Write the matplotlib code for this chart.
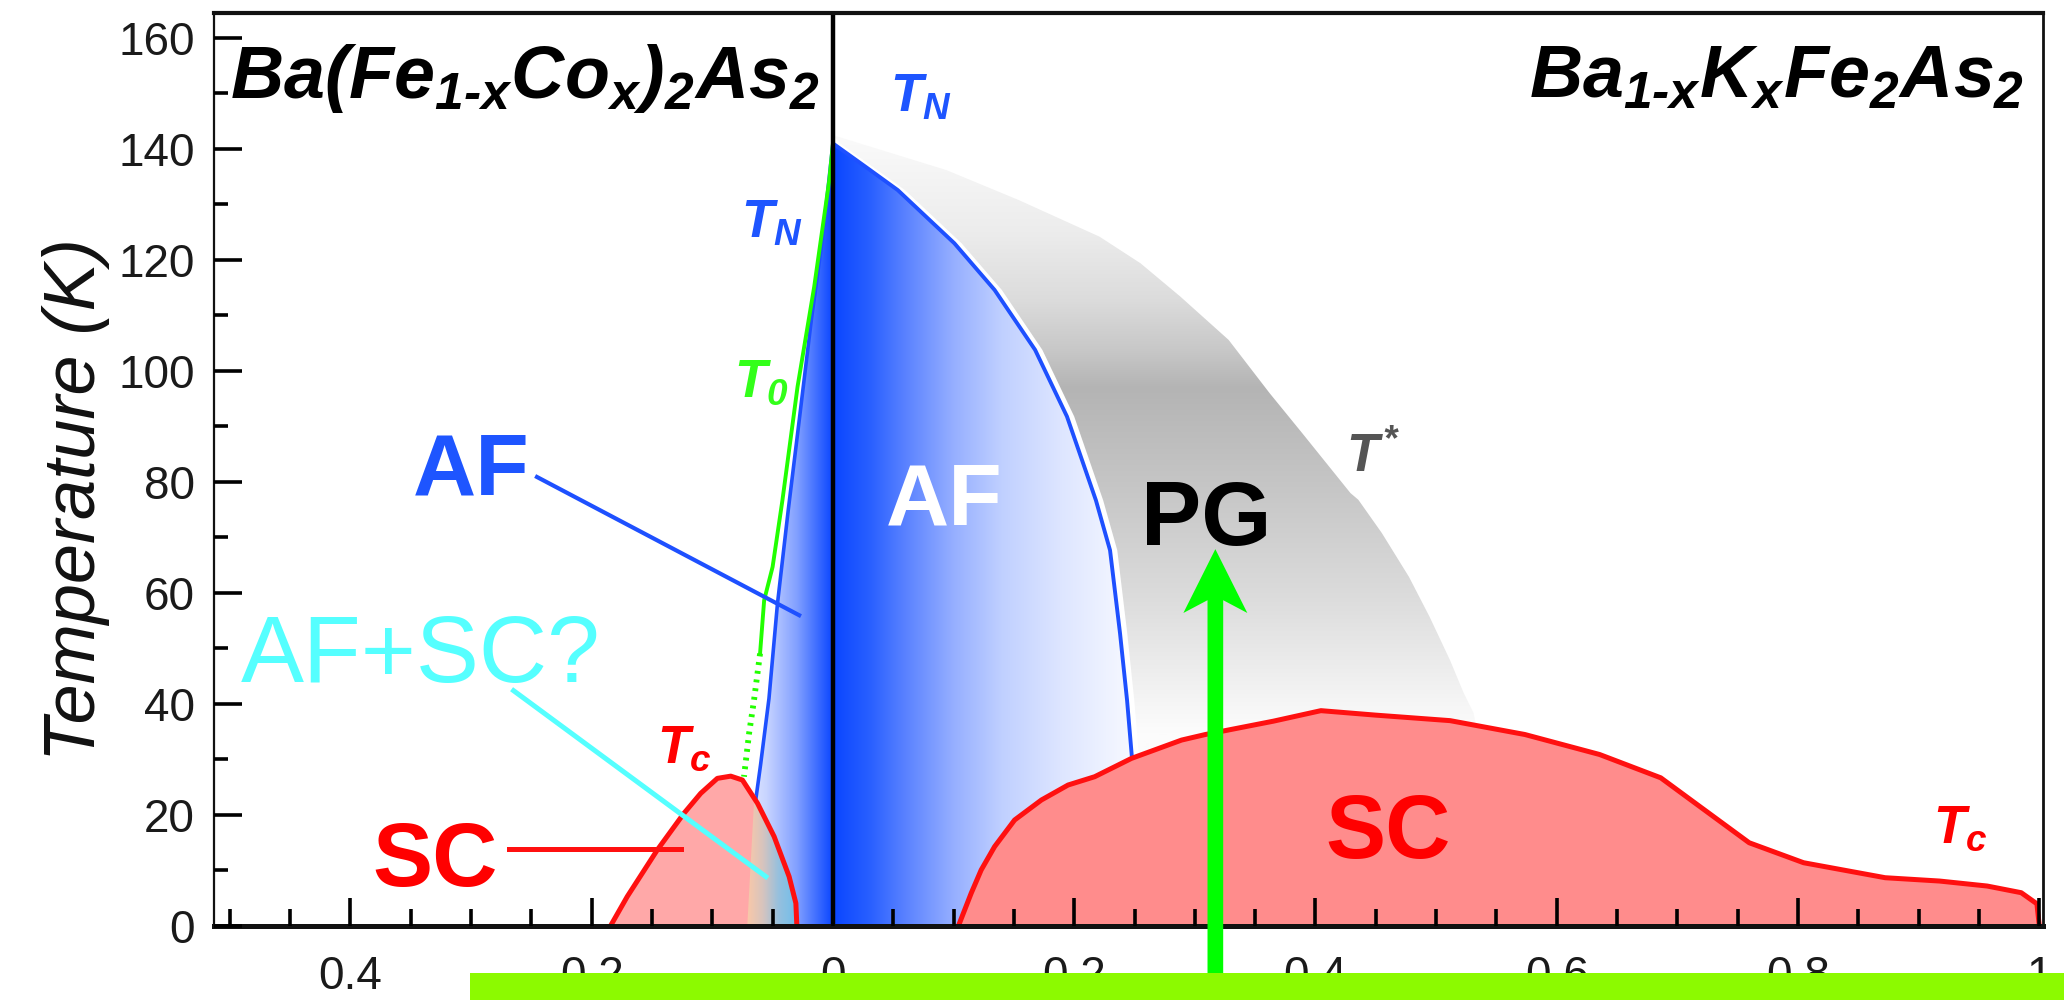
import numpy as np
import matplotlib
matplotlib.use("Agg")
import matplotlib.pyplot as plt
from matplotlib.patches import Polygon, FancyArrow, Rectangle
from matplotlib.ticker import FixedLocator, FuncFormatter

plt.rcParams['font.family'] = ['Liberation Sans', 'DejaVu Sans']
plt.rcParams['mathtext.fontset'] = 'custom'
plt.rcParams['mathtext.it'] = 'Liberation Sans:italic:bold'
plt.rcParams['mathtext.rm'] = 'Liberation Sans:italic:bold'
plt.rcParams['mathtext.bf'] = 'Liberation Sans:bold'

# Ba(Fe1-xCox)2As2 side is plotted at negative x (doping shown as |x|)
tn_co_x = [0.0, -0.008, -0.018, -0.028, -0.037, -0.046, -0.053, -0.060, -0.064, -0.068, -0.071]
tn_co_t = [141, 125, 109, 91, 75, 58, 41, 29, 22.7, 12, 0]

t0_co_x = [0.0, -0.003, -0.0155, -0.0293, -0.0418, -0.050, -0.057, -0.0604]
t0_co_t = [141, 134.4, 115.2, 97.2, 76.8, 64.7, 58.7, 49.1]
t0_dot_x = [-0.0604, -0.0654, -0.0695, -0.0737]
t0_dot_t = [49.1, 40.7, 34.7, 26.9]

sc_co_x = [-0.1844, -0.1705, -0.1456, -0.1235, -0.1096, -0.0958, -0.0847, -0.075,
           -0.0625, -0.0487, -0.0363, -0.0307, -0.0299]
sc_co_t = [0.0, 5.3, 13.7, 20.3, 23.9, 26.6, 27.0, 26.3, 22.1, 16.1, 8.9, 4.1, 0.0]

# Ba1-xKxFe2As2 side
tn_k_x = [0.0, 0.027, 0.0537, 0.1007, 0.134, 0.1676, 0.194, 0.218, 0.2297, 0.238,
          0.2438, 0.2478, 0.252, 0.255]
tn_k_t = [141, 136.8, 132.6, 123.0, 114.6, 103.8, 91.8, 76.7, 67.7, 52.7, 40.7, 30.5, 15, 0]

tstar_x = [0.0, 0.094, 0.154, 0.221, 0.255, 0.288, 0.328, 0.362, 0.389, 0.429, 0.4355,
           0.455, 0.4775, 0.4946, 0.5115, 0.5228, 0.531, 0.535]
tstar_t = [142.5, 136.2, 130.8, 124.2, 119.4, 113.4, 105.6, 96.0, 88.8, 78.0, 76.8,
           70.8, 62.9, 55.7, 47.9, 42.0, 38.4, 34.0]

sc_k_x = [0.104, 0.1146, 0.1229, 0.134, 0.1506, 0.1728, 0.1949, 0.217, 0.2475, 0.289,
          0.3087, 0.365, 0.4045, 0.4495, 0.5116, 0.5736, 0.6355, 0.6862, 0.72, 0.7595,
          0.8046, 0.8722, 0.9173, 0.9568, 0.985, 0.998, 1.0]
sc_k_t = [0.0, 5.9, 10.1, 14.3, 19.1, 22.7, 25.4, 26.9, 30.2, 33.5, 34.5, 36.9, 38.8,
          38.0, 37.0, 34.5, 30.9, 26.7, 21.3, 15.0, 11.4, 8.7, 8.1, 7.2, 6.0, 4.0, 0.0]

x_major = [-0.4, -0.2, 0.0, 0.2, 0.4, 0.6, 0.8, 1.0]
x_labels = ['0.4', '0.2', '0', '0.2', '0.4', '0.6', '0.8', '1']
y_major = [0, 20, 40, 60, 80, 100, 120, 140, 160]

BLUE = '#1E50FF'
RED = '#FF1010'


def gradient_fill(ax, verts, extent, stops, horizontal=True, zorder=1.0):
    """Fill a polygon with a linear colour gradient (stops in data units)."""
    poly = Polygon(verts, closed=True, facecolor='none', edgecolor='none')
    ax.add_patch(poly)
    pos = np.array([s[0] for s in stops])
    cols = np.array([s[1] for s in stops], dtype=float) / 255.0
    if horizontal:
        grid = np.linspace(extent[0], extent[1], 400)
        img = np.stack([np.interp(grid, pos, cols[:, i]) for i in range(3)], axis=-1)[None, :, :]
    else:
        grid = np.linspace(extent[3], extent[2], 400)
        img = np.stack([np.interp(grid, pos, cols[:, i]) for i in range(3)], axis=-1)[:, None, :]
    im = ax.imshow(img, extent=extent, aspect='auto', origin='upper',
                   interpolation='bilinear', zorder=zorder)
    im.set_clip_path(poly)
    return im


fig = plt.figure(figsize=(20.64, 10), dpi=100)
ax = fig.add_axes([0.1037, 0.074, 0.8861, 0.913])

# pseudogap band between T_N and T*
gray_verts = list(zip(tstar_x, tstar_t)) + [(0.53, 25), (0.26, 25)]
gray_verts += [(x + 0.006, t) for x, t in zip(tn_k_x[::-1], tn_k_t[::-1]) if t >= 25]
gray_stops = [(35, (252, 252, 252)), (41, (244, 244, 244)), (50, (232, 232, 232)),
              (59, (220, 220, 220)), (68, (210, 210, 210)), (77, (200, 200, 200)),
              (89, (188, 188, 188)), (97, (180, 180, 180)), (104, (200, 200, 200)),
              (113, (220, 220, 220)), (125, (236, 236, 236)), (142, (250, 250, 250))]
gradient_fill(ax, gray_verts, [0, 0.55, 20, 145], gray_stops, horizontal=False, zorder=1.0)

# AF regions
af_k_verts = [(0, 0)] + list(zip(tn_k_x, tn_k_t))
af_k_stops = [(0.0, (10, 70, 255)), (0.03, (40, 95, 255)), (0.06, (90, 130, 255)),
              (0.10, (150, 175, 255)), (0.14, (192, 208, 255)), (0.19, (222, 230, 255)),
              (0.245, (246, 248, 255))]
gradient_fill(ax, af_k_verts, [0, 0.26, 0, 142], af_k_stops, zorder=1.2)

af_co_verts = [(0, 0)] + list(zip(tn_co_x, tn_co_t))
af_co_stops = [(-0.072, (228, 234, 255)), (-0.055, (200, 212, 255)),
               (-0.03, (130, 160, 255)), (-0.01, (50, 100, 255)), (0.0, (10, 70, 255))]
gradient_fill(ax, af_co_verts, [-0.072, 0, 0, 142], af_co_stops, zorder=1.2)

ax.plot(tn_k_x[:-2], tn_k_t[:-2], color=BLUE, lw=2.8, zorder=1.4, solid_capstyle='butt')
ax.plot(tn_co_x, tn_co_t, color=BLUE, lw=2.6, zorder=1.4)
ax.plot(t0_co_x, t0_co_t, color='#22FF00', lw=2.8, zorder=1.4)
ax.plot(t0_dot_x, t0_dot_t, color='#22FF00', lw=4.2, ls=(0, (0.5, 1.0)), zorder=1.4)

# superconducting domes
ax.fill(sc_k_x, sc_k_t, color='#FF8C8C', zorder=1.5, lw=0)
ax.fill(sc_co_x, sc_co_t, color='#FFA8A8', zorder=1.5, lw=0)

# AF+SC coexistence inside the Co dome
ov_verts = [(x, t) for x, t in zip(sc_co_x, sc_co_t) if x > -0.075] + [(-0.071, 0), (-0.068, 12), (-0.065, 24)]
ov_stops = [(-0.071, (250, 200, 168)), (-0.058, (215, 196, 190)),
            (-0.045, (150, 192, 222)), (-0.03, (112, 190, 235))]
gradient_fill(ax, ov_verts, [-0.072, -0.029, 0, 28], ov_stops, zorder=1.6)

ax.plot(sc_k_x, sc_k_t, color=RED, lw=3.6, zorder=1.8)
ax.plot(sc_co_x, sc_co_t, color=RED, lw=3.6, zorder=1.8)

ax.axvline(0, color='black', lw=3.2, zorder=2.0)

# pointer lines
ax.plot([-0.2453, -0.028], [80.9, 56.0], color=BLUE, lw=3.0, zorder=3)
ax.plot([-0.2647, -0.0556], [42.4, 8.9], color='#55FFFF', lw=3.6, zorder=3)
ax.plot([-0.2686, -0.126], [13.8, 13.8], color=RED, lw=3.6, zorder=3)

# region labels
ax.text(-0.2998, 77.7, 'AF', color='#1E55FF', fontsize=63, fontweight='bold',
        ha='center', va='baseline', zorder=4)
ax.text(-0.342, 44.0, 'AF+SC?', color='#55FFFF', fontsize=68,
        ha='center', va='baseline', zorder=4)
ax.text(-0.330, 7.2, 'SC', color='#FF0000', fontsize=65, fontweight='bold',
        ha='center', va='baseline', zorder=4)
ax.text(0.4605, 12.3, 'SC', color='#FF0000', fontsize=65, fontweight='bold',
        ha='center', va='baseline', zorder=4)
ax.text(0.3098, 68.6, 'PG', color='black', fontsize=65, fontweight='bold',
        ha='center', va='baseline', zorder=4)
ax.text(0.0922, 72.3, 'AF', color='white', fontsize=63, fontweight='bold',
        ha='center', va='baseline', zorder=4)

# transition temperature labels
ax.text(-0.0764, 124, r'$T_N$', color='#1E55FF', fontsize=38, ha='left', va='baseline', zorder=4)
ax.text(-0.0822, 95.3, r'$T_0$', color='#33FF1A', fontsize=38, ha='left', va='baseline', zorder=4)
ax.text(0.047, 146.7, r'$T_N$', color='#1E55FF', fontsize=38, ha='left', va='baseline', zorder=4)
ax.text(0.4252, 81.8, r'$T^{\!*}$', color='#555555', fontsize=38, ha='left', va='baseline', zorder=4)
ax.text(-0.146, 29.4, r'$T_c$', color='#FF0000', fontsize=38, ha='left', va='baseline', zorder=4)
ax.text(0.9116, 15.0, r'$T_c$', color='#FF0000', fontsize=38, ha='left', va='baseline', zorder=4)

# compound names
ax.text(-0.5, 149.2, r'$Ba(Fe_{1\text{-}x}Co_x)_2As_2$', fontsize=53,
        ha='left', va='baseline', zorder=4)
ax.text(0.9875, 149.4, r'$Ba_{1\text{-}x}K_xFe_2As_2$', fontsize=53,
        ha='right', va='baseline', zorder=4)

# green arrow rising into the pseudogap
arrow = FancyArrow(0.317, -9.0, 0, 76.9, width=0.013, head_width=0.053,
                   head_length=11.5, overhang=0.2, length_includes_head=True,
                   color='#00FF00', lw=0, clip_on=False, zorder=10)
ax.add_patch(arrow)

ax.set_xlim(-0.513, 1.003)
ax.set_ylim(0, 164.5)

ax.xaxis.set_major_locator(FixedLocator(x_major))
ax.xaxis.set_minor_locator(FixedLocator(np.arange(-0.5, 1.001, 0.05)))
ax.xaxis.set_major_formatter(FuncFormatter(lambda v, p: x_labels[p] if p is not None and p < len(x_labels) else ''))
ax.yaxis.set_major_locator(FixedLocator(y_major))
ax.yaxis.set_minor_locator(FixedLocator(np.arange(10, 160, 20)))

ax.tick_params(axis='x', which='major', direction='in', length=20, width=2.6,
               labelsize=33, pad=21, labelcolor='#1a1a1a')
ax.tick_params(axis='x', which='minor', direction='in', length=12, width=2.6)
ax.tick_params(axis='y', which='major', direction='in', length=20, width=2.6,
               labelsize=33, pad=14, labelcolor='#1a1a1a')
ax.tick_params(axis='y', which='minor', direction='in', length=10, width=2.6)

ax.xaxis.set_zorder(5)
ax.yaxis.set_zorder(5)
for side, lw in [('top', 3.0), ('bottom', 3.6), ('left', 1.6), ('right', 2.0)]:
    ax.spines[side].set_linewidth(lw)
    ax.spines[side].set_color('#111111')
    ax.spines[side].set_zorder(5)

fig.text(0.037, 0.5, 'Temperature (K)', rotation=90, fontsize=52, style='italic',
         color='#111111', ha='center', va='center')

fig.add_artist(Rectangle((0.2277, 0), 0.7723, 0.027, transform=fig.transFigure,
                         facecolor='#8CFA00', edgecolor='none', zorder=20))

fig.savefig('out.png', dpi=100)
